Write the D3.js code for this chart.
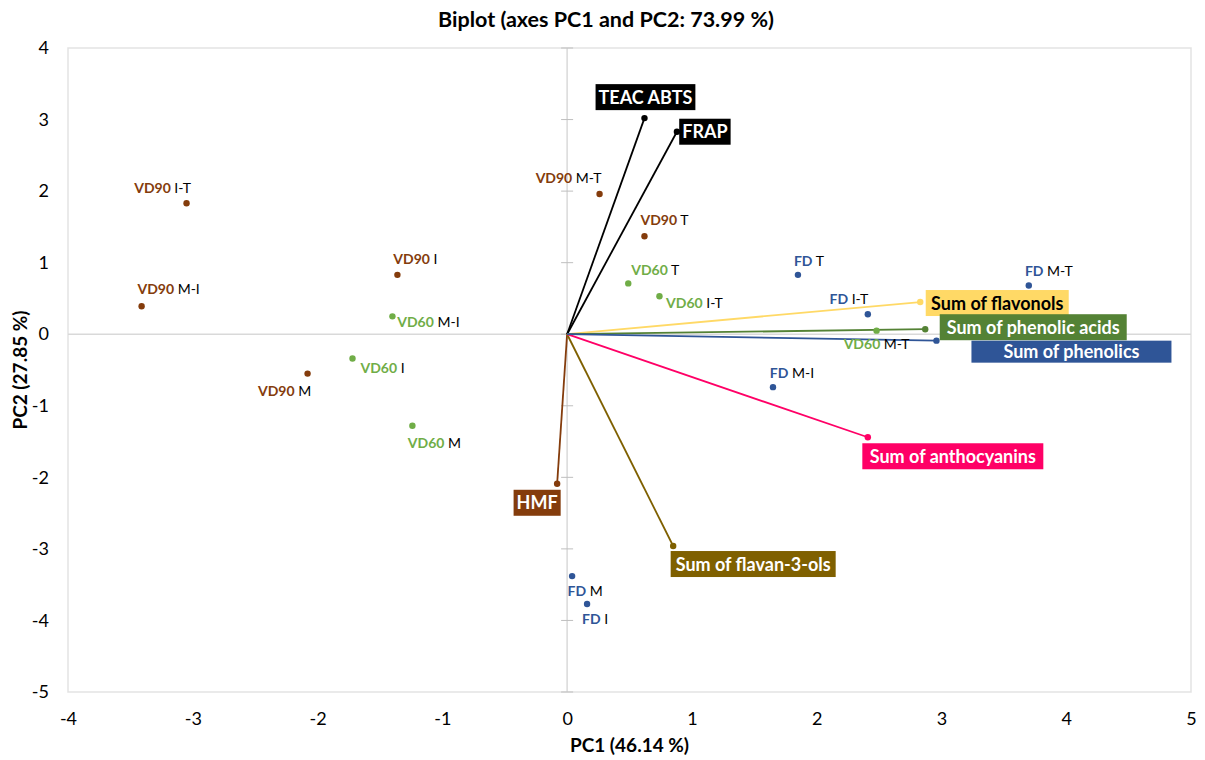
<!DOCTYPE html>
<html>
<head>
<meta charset="utf-8">
<script src="https://cdn.jsdelivr.net/npm/d3@7"></script>
<style>
    body { margin: 0; background: #ffffff; }
    svg { font-family: Lato, "Open Sans", sans-serif; }
</style>
</head>
<body>
<script>

// Observations (samples) - prefix is the drying method, suffix the variant
var obsPrefix = ["VD90", "VD90", "VD90", "VD90", "VD90", "VD90",
                 "VD60", "VD60", "VD60", "VD60", "VD60", "VD60",
                 "FD", "FD", "FD", "FD", "FD", "FD"];
var obsSuffix = ["I-T", "M-I", "I", "M", "M-T", "T",
                 "M-I", "I", "M", "T", "I-T", "M-T",
                 "T", "I-T", "M-T", "M-I", "M", "I"];
var obsPC1 = [-3.05, -3.41, -1.36, -2.08, 0.26, 0.62,
              -1.40, -1.72, -1.24, 0.49, 0.74, 2.48,
              1.85, 2.41, 3.70, 1.65, 0.04, 0.16];
var obsPC2 = [1.83, 0.39, 0.83, -0.55, 1.96, 1.37,
              0.25, -0.34, -1.28, 0.71, 0.53, 0.05,
              0.83, 0.28, 0.68, -0.74, -3.38, -3.77];

// Variables (loadings drawn as arrows from the origin)
var varNames = ["TEAC ABTS", "FRAP", "HMF", "Sum of flavan-3-ols", "Sum of anthocyanins",
                "Sum of flavonols", "Sum of phenolic acids", "Sum of phenolics"];
var varPC1 = [0.62, 0.88, -0.08, 0.85, 2.41, 2.83, 2.87, 2.96];
var varPC2 = [3.02, 2.83, -2.09, -2.96, -1.44, 0.45, 0.07, -0.09];

// Axis ticks
var xTicks = [-4, -3, -2, -1, 0, 1, 2, 3, 4, 5];
var yTicks = [-5, -4, -3, -2, -1, 0, 1, 2, 3, 4];

// Styling / layout (kept apart from the data)
var groupColor = {"VD90": "#843C0C", "VD60": "#70AD47", "FD": "#2F5597"};
var varColor = ["#000000", "#000000", "#843C0C", "#7F6000", "#FF0066", "#FFD966", "#548235", "#2F5597"];
var varTextColor = ["#fff", "#fff", "#fff", "#fff", "#fff", "#000", "#fff", "#fff"];
// label centre offsets from the point, in pixels
var obsLabelDx = [-24, 27, 18, -23, -31, 20, 36, 30, 22, 27, 35, 0, 11, -19, 20, 19, 13, 8];
var obsLabelDy = [-15, -17, -16, 17, -16, -16, 6, 9, 17, -13, 7, 13, -14, -15, -15, -14, 15, 15];
var varLabelDx = [1, 28, -20, 80, 85, 77, 108, 135];
var varLabelDy = [-21, 0, 19, 18, 19, 1, -2, 11];
var varBoxW = [93, 47, 44, 165, 181, 143, 187, 200];

var width = 1205;
var height = 760;
var plotLeft = 68, plotRight = 1191, plotTop = 48, plotBottom = 692;

var svg = d3.select("body").
    append("svg").
    attr("width", width).
    attr("height", height);

var xScale = d3.scaleLinear().
    domain([-4, 5]).
    range([plotLeft, plotRight]);
var yScale = d3.scaleLinear().
    domain([-5, 4]).
    range([plotBottom, plotTop]);

// Plot area border
svg.append("rect").
    attr("x", plotLeft).
    attr("y", plotTop).
    attr("width", plotRight - plotLeft).
    attr("height", plotBottom - plotTop).
    attr("fill", "none").
    attr("stroke", "#E3E3E3").
    attr("stroke-width", 1.5);

// Tick labels via d3 axes (lines hidden), plain hyphen for negatives
var xAxis = d3.axisBottom(xScale).tickValues(xTicks).tickSize(0).tickPadding(20).
    tickFormat(function(d) { return String(d); });
var yAxis = d3.axisLeft(yScale).tickValues(yTicks).tickSize(0).tickPadding(19).
    tickFormat(function(d) { return String(d); });

var gx = svg.append("g").
    attr("transform", "translate(0," + plotBottom + ")").
    call(xAxis);
var gy = svg.append("g").
    attr("transform", "translate(" + plotLeft + ",0)").
    call(yAxis);
[gx, gy].forEach(function(g) {
    g.select(".domain").remove();
    g.selectAll("text").
        attr("font-family", "Lato, 'Open Sans', sans-serif").
        attr("font-size", "18px").
        attr("fill", "#000");
});

// Axis lines through the origin
svg.append("line").
    attr("x1", plotLeft).attr("x2", plotRight).
    attr("y1", yScale(0)).attr("y2", yScale(0)).
    attr("stroke", "#D9D9D9").
    attr("stroke-width", 1.5);
svg.append("line").
    attr("x1", xScale(0)).attr("x2", xScale(0)).
    attr("y1", plotTop).attr("y2", plotBottom).
    attr("stroke", "#D9D9D9").
    attr("stroke-width", 1.5);
// cross ticks on the vertical axis
svg.selectAll("line.ytick").
    data(yTicks).
    enter().
    append("line").
    attr("class", "ytick").
    attr("x1", xScale(0) - 6).attr("x2", xScale(0) + 6).
    attr("y1", function(d) { return yScale(d); }).
    attr("y2", function(d) { return yScale(d); }).
    attr("stroke", "#BFBFBF").
    attr("stroke-width", 1);

// Variable arrows
var vars = varNames.map(function(n, i) { return {i: i, name: n, x: varPC1[i], y: varPC2[i]}; });
svg.selectAll("line.var").
    data(vars).
    enter().
    append("line").
    attr("class", "var").
    attr("x1", xScale(0)).attr("y1", yScale(0)).
    attr("x2", function(d) { return xScale(d.x); }).
    attr("y2", function(d) { return yScale(d.y); }).
    attr("stroke", function(d) { return varColor[d.i]; }).
    attr("stroke-width", 1.8);
svg.selectAll("circle.var").
    data(vars).
    enter().
    append("circle").
    attr("class", "var").
    attr("cx", function(d) { return xScale(d.x); }).
    attr("cy", function(d) { return yScale(d.y); }).
    attr("r", 3.2).
    attr("fill", function(d) { return varColor[d.i]; });

// Observation points
var obs = obsPrefix.map(function(p, i) { return {i: i, pre: p, suf: obsSuffix[i], x: obsPC1[i], y: obsPC2[i]}; });
svg.selectAll("circle.obs").
    data(obs).
    enter().
    append("circle").
    attr("class", "obs").
    attr("cx", function(d) { return xScale(d.x); }).
    attr("cy", function(d) { return yScale(d.y); }).
    attr("r", 3.2).
    attr("fill", function(d) { return groupColor[d.pre]; });

// Observation labels: coloured bold prefix + black suffix
var obsText = svg.selectAll("text.obs").
    data(obs).
    enter().
    append("text").
    attr("class", "obs").
    attr("x", function(d) { return xScale(d.x) + obsLabelDx[d.i]; }).
    attr("y", function(d) { return yScale(d.y) + obsLabelDy[d.i]; }).
    attr("dy", "0.36em").
    attr("font-size", "14px").
    style("text-anchor", "middle");
obsText.append("tspan").
    attr("font-weight", "bold").
    attr("fill", function(d) { return groupColor[d.pre]; }).
    text(function(d) { return d.pre; });
obsText.append("tspan").
    attr("fill", "#000").
    text(function(d) { return " " + d.suf; });

// Variable labels in filled boxes
var varLab = svg.selectAll("g.varlab").
    data(vars).
    enter().
    append("g").
    attr("class", "varlab").
    attr("transform", function(d) {
        return "translate(" + (xScale(d.x) + varLabelDx[d.i]) + "," + (yScale(d.y) + varLabelDy[d.i]) + ")"; });
varLab.append("rect").
    attr("fill", function(d) { return varColor[d.i]; });
var boxText = varLab.append("text").
    attr("dy", "0.36em").
    attr("font-size", "18px").
    attr("font-weight", "bold").
    attr("fill", function(d) { return varTextColor[d.i]; }).
    style("text-anchor", "middle").
    text(function(d) { return d.name; });
boxText.each(function(d) {
    var w = Math.max(this.getComputedTextLength() + 6, varBoxW[d.i]);
    var h = d.i == 7 ? 22 : 26;
    d3.select(this.parentNode).select("rect").
        attr("x", -w / 2).
        attr("y", -h / 2).
        attr("width", w).
        attr("height", h);
});

// Title and axis titles
svg.append("text").
    attr("x", 606).
    attr("y", 19).
    attr("dy", "0.36em").
    attr("font-size", "21.5px").
    attr("font-weight", "bold").
    style("text-anchor", "middle").
    text("Biplot (axes PC1 and PC2: 73.99 %)");
svg.append("text").
    attr("x", (plotLeft + plotRight) / 2).
    attr("y", 745).
    attr("dy", "0.36em").
    attr("font-size", "19px").
    attr("font-weight", "bold").
    style("text-anchor", "middle").
    text("PC1 (46.14 %)");
svg.append("text").
    attr("transform", "translate(20," + ((plotTop + plotBottom) / 2) + ") rotate(-90)").
    attr("dy", "0.36em").
    attr("font-size", "19px").
    attr("font-weight", "bold").
    style("text-anchor", "middle").
    text("PC2 (27.85 %)");

</script>
</body>
</html>
